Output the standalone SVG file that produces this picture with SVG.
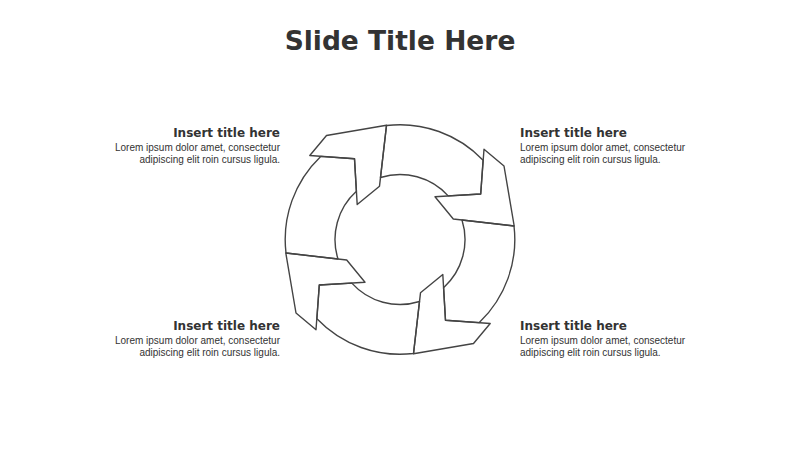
<svg xmlns="http://www.w3.org/2000/svg" width="800" height="450" viewBox="0 0 800 450">
  <style>
    .title { font-family: "DejaVu Sans", Verdana, sans-serif; font-weight: bold; font-size: 26.5px; fill: #333333; }
    .head { font-family: "DejaVu Sans", Verdana, sans-serif; font-weight: bold; font-size: 12px; fill: #333333; }
    .body { font-family: "Liberation Sans", Arial, sans-serif; font-size: 10px; fill: #333333; }
    .seg { fill: none; stroke: #444444; stroke-width: 1.4; stroke-linejoin: round; }
  </style>
  <defs>
    <g id="arrowShape">
      <path class="seg" d="M 386.5,125.5 A 115 115 0 0 1 483.1,160.2 L 480.7,194 L 448.2,195.9 A 65 65 0 0 0 380.5,177.5 Z"/>
      <path class="seg" d="M 484,149.3 L 504,166 L 514.2,226 L 453.3,219 L 435,196.7 L 480.7,194 Z"/>
    </g>
  </defs>
  <rect x="0" y="0" width="800" height="450" fill="#ffffff"/>
  <text class="title" x="400" y="50" text-anchor="middle">Slide Title Here</text>

  <g id="connectors"></g>

  <g id="arrow-top-right"><use href="#arrowShape"/></g>
  <g id="arrow-bottom-right"><use href="#arrowShape" transform="rotate(90 400 239.5)"/></g>
  <g id="arrow-bottom-left"><use href="#arrowShape" transform="rotate(180 400 239.5)"/></g>
  <g id="arrow-top-left"><use href="#arrowShape" transform="rotate(270 400 239.5)"/></g>

  <g id="text-top-left" text-anchor="end">
    <text class="head" x="280" y="137">Insert title here</text>
    <text class="body" x="280" y="150.5">Lorem ipsum dolor amet, consectetur</text>
    <text class="body" x="280" y="162.5">adipiscing elit roin cursus ligula.</text>
  </g>
  <g id="text-top-right">
    <text class="head" x="520" y="137">Insert title here</text>
    <text class="body" x="520" y="150.5">Lorem ipsum dolor amet, consectetur</text>
    <text class="body" x="520" y="162.5">adipiscing elit roin cursus ligula.</text>
  </g>
  <g id="text-bottom-left" text-anchor="end">
    <text class="head" x="280" y="330">Insert title here</text>
    <text class="body" x="280" y="343.5">Lorem ipsum dolor amet, consectetur</text>
    <text class="body" x="280" y="355.5">adipiscing elit roin cursus ligula.</text>
  </g>
  <g id="text-bottom-right">
    <text class="head" x="520" y="330">Insert title here</text>
    <text class="body" x="520" y="343.5">Lorem ipsum dolor amet, consectetur</text>
    <text class="body" x="520" y="355.5">adipiscing elit roin cursus ligula.</text>
  </g>
</svg>
